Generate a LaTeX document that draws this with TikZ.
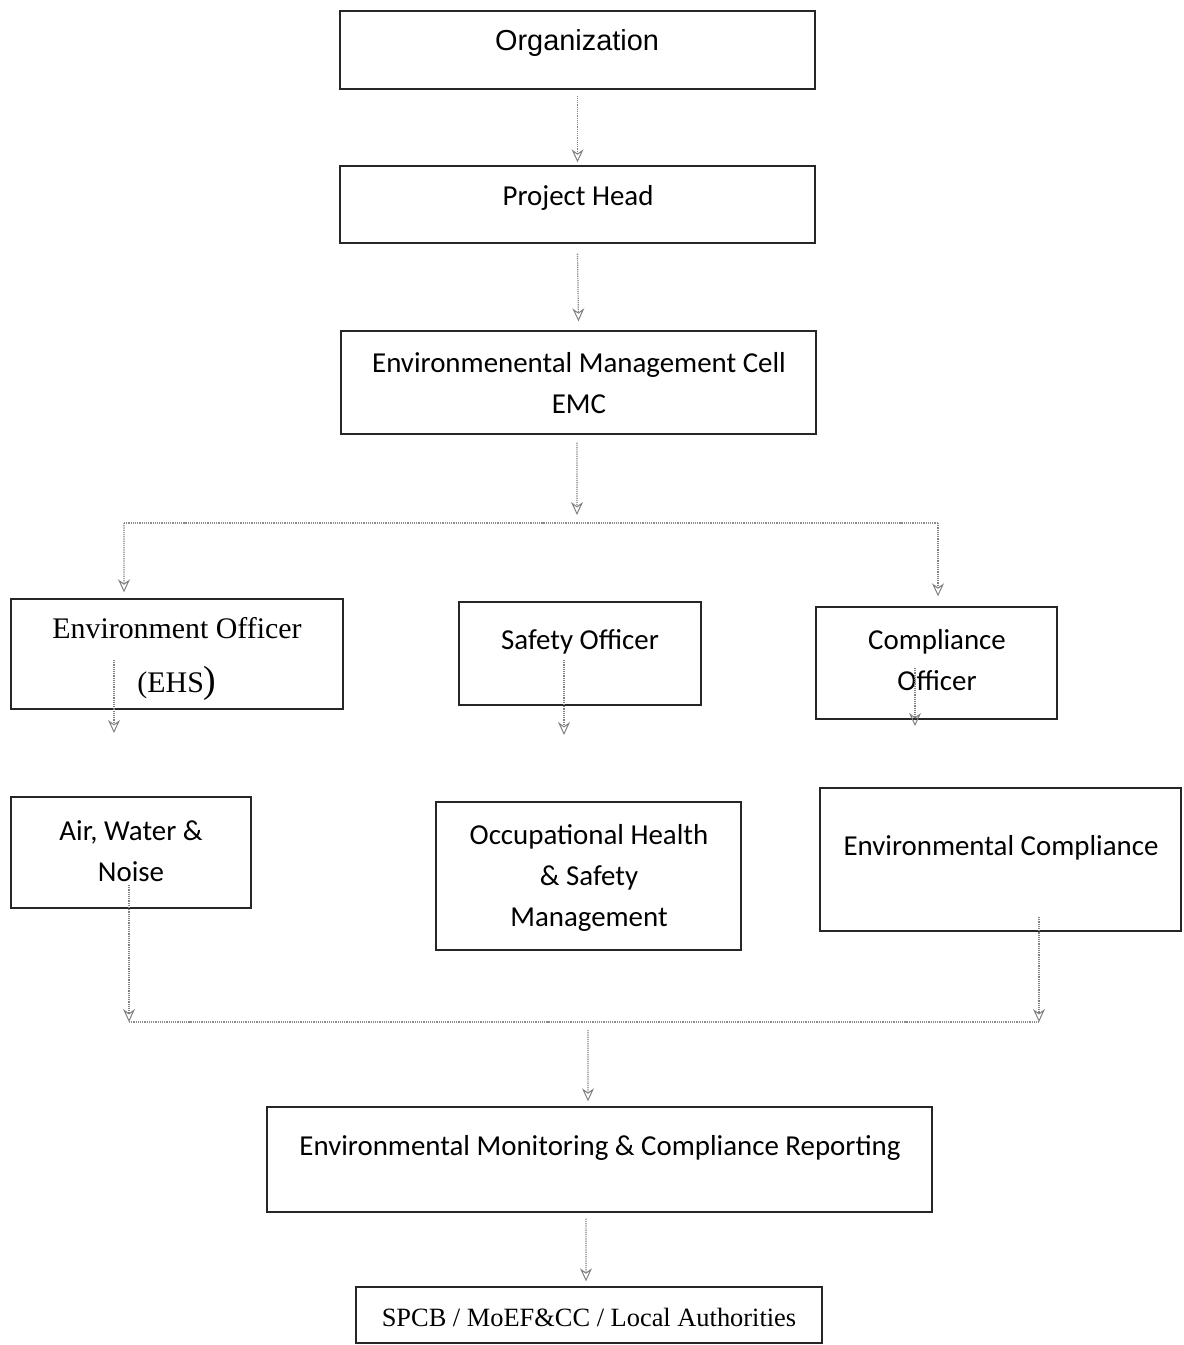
\documentclass[tikz,border=0pt]{standalone}
\usepackage{fontspec}
\setmainfont{Carlito}
\newfontfamily\arialfont{Liberation Sans}
\newfontfamily\timesfont{Liberation Serif}
\usetikzlibrary{arrows.meta}

\tikzset{
  box/.style={draw=black!85,line width=1.4bp,inner sep=0pt},
  lbl/.style={align=center,font=\fontsize{29}{41}\selectfont,inner sep=0pt,yshift=-3bp},
  flow/.style={draw=black!50,densely dotted,line width=1.2bp,
    -{Stealth[open,length=13bp,width=12bp,line width=1bp]}},
  bus/.style={draw=black!45,densely dotted,line width=1.2bp}
}

\begin{document}
\begin{tikzpicture}[x=1bp,y=-1bp]
  \useasboundingbox (0,0) rectangle (1183,1345);

  % boxes
  \node (org) at (577.5,50.0) [box,minimum width=475bp,minimum height=78bp] {};
  \node (ph) at (577.5,204.5) [box,minimum width=475bp,minimum height=77bp] {};
  \node (emc) at (578.5,382.5) [box,minimum width=475bp,minimum height=103bp] {};
  \node (eo) at (177.0,654.0) [box,minimum width=332bp,minimum height=110bp] {};
  \node (so) at (580.0,653.5) [box,minimum width=242bp,minimum height=103bp] {};
  \node (co) at (936.5,663.0) [box,minimum width=241bp,minimum height=112bp] {};
  \node (awn) at (131.0,852.5) [box,minimum width=240bp,minimum height=111bp] {};
  \node (ohs) at (588.5,876.0) [box,minimum width=305bp,minimum height=148bp] {};
  \node (ec) at (1000.5,859.5) [box,minimum width=361bp,minimum height=143bp] {};
  \node (emcr) at (599.5,1159.5) [box,minimum width=665bp,minimum height=105bp] {};
  \node (spcb) at (589.0,1315.0) [box,minimum width=466bp,minimum height=56bp] {};

  % texts
  \node (orgT) at (577,40) [lbl,font=\arialfont\fontsize{29}{41}\selectfont] {Organization};
  \node (phT) at (578,195) [lbl] {Project Head};
  \node (emcT) at (579,380) [lbl] {Environmenental Management Cell\\EMC};
  \node (eoT) at (177,656) [lbl,font=\timesfont\fontsize{30}{54}\selectfont] {Environment Officer\\(EHS{\fontsize{38}{38}\selectfont)}};
  \node (soT) at (580,639) [lbl] {Safety Officer};
  \node (coT) at (937,657) [lbl] {Compliance\\Officer};
  \node (awnT) at (131,848) [lbl] {Air, Water \&\\Noise};
  \node (ohsT) at (589,875) [lbl] {Occupational Health\\\& Safety\\Management};
  \node (ecT) at (1001,845) [lbl] {Environmental Compliance};
  \node (emcrT) at (600,1145) [lbl] {Environmental Monitoring \& Compliance Reporting};
  \node (spcbT) at (589,1314) [lbl,font=\timesfont\fontsize{26.5}{30}\selectfont] {SPCB / MoEF\&CC / Local Authorities};

  % free ends of the connectors
  \coordinate (busL) at (124,523);
  \coordinate (busM) at (577,523);
  \coordinate (busR) at (938,523);
  \coordinate (emcIn) at (577,515);
  \coordinate (eoA) at (114,660);
  \coordinate (eoB) at (114,733);
  \coordinate (soA) at (564,660);
  \coordinate (soB) at (564,735);
  \coordinate (coA) at (915,668);
  \coordinate (coB) at (915,726);
  \coordinate (awnA) at (129,885);
  \coordinate (ecA) at (1039,917);
  \coordinate (botL) at (129,1022);
  \coordinate (botR) at (1039,1022);
  \coordinate (botM) at (588,1022);

  % connectors
  \draw [flow] ([yshift=-6bp]org.south) -- ([yshift=3bp]ph.north);
  \draw [flow] ([yshift=-10bp]ph.south) -- ([yshift=9bp]emc.north);
  \draw [flow] ([xshift=-1.5bp,yshift=-8bp]emc.south) -- (emcIn);
  \draw [bus] (busL) -- (busR);
  \draw [flow] (busL) -- ([xshift=-53bp,yshift=6bp]eo.north);
  \draw [flow] (busR) -- ([xshift=1.5bp,yshift=10bp]co.north);
  \draw [flow] (eoA) -- (eoB);
  \draw [flow] (soA) -- (soB);
  \draw [flow] (coA) -- (coB);
  \draw [flow] (awnA) -- (botL);
  \draw [flow] (ecA) -- (botR);
  \draw [bus] (botL) -- (botR);
  \draw [flow] ([yshift=-8bp]botM) -- ([xshift=-11.5bp,yshift=5bp]emcr.north);
  \draw [flow] ([xshift=-13.5bp,yshift=-6bp]emcr.south) -- ([xshift=-3bp,yshift=5bp]spcb.north);
\end{tikzpicture}
\end{document}
